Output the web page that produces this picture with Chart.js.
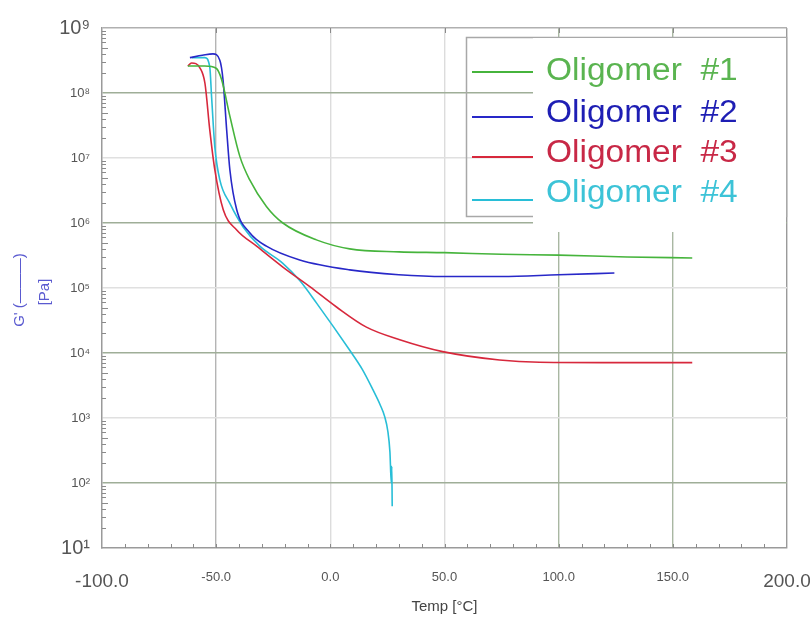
<!DOCTYPE html>
<html>
<head>
<meta charset="utf-8">
<script src="https://cdn.jsdelivr.net/npm/chart.js@4"></script>
<style>
  html, body { margin: 0; padding: 0; background: #fff; }
  #wrap { width: 810px; height: 620px; }
</style>
</head>
<body>
<div id="wrap"><canvas id="chart" width="810" height="620"></canvas></div>
<script>
// storage modulus G' vs temperature

const seriesNames = ['Oligomer  #1', 'Oligomer  #2', 'Oligomer  #3', 'Oligomer  #4'];
const lineColors = ['rgb(70,180,60)', 'rgb(40,40,200)', 'rgb(215,40,60)', 'rgb(40,190,215)'];
const textColors = ['rgb(90,180,80)', 'rgb(30,30,180)', 'rgb(200,40,70)', 'rgb(60,195,215)'];

const temp1 = [-62.4, -55, -50, -47.6, -44, -39.6, -35.3, -28, -20.8, -6.1, 8.5, 30, 50, 75, 100, 130, 158.5];
const gp1 = [2.6e8, 2.6e8, 2.4e8, 1.6e8, 4.4e7, 1.05e7, 4.6e6, 1.8e6, 1.0e6, 5.5e5, 4.0e5, 3.6e5, 3.5e5, 3.3e5, 3.2e5, 3.0e5, 2.9e5];

const temp2 = [-61.5, -56, -51.4, -48.4, -47, -45.4, -44, -41, -35.3, -28, -13.4, 8.5, 30, 50, 75, 100, 124.4];
const gp2 = [3.5e8, 3.8e8, 4.0e8, 3.2e8, 1.6e8, 2.7e7, 6.6e6, 1.6e6, 7.1e5, 4.4e5, 2.7e5, 1.9e5, 1.6e5, 1.5e5, 1.5e5, 1.6e5, 1.7e5];

const temp3 = [-62.4, -60.8, -57, -54.9, -52.8, -50.6, -46.9, -41, -32.3, -20.8, -9, 2.7, 15.8, 30.4, 49.2, 74.1, 91.6, 125, 158.5];
const gp3 = [2.6e8, 2.9e8, 2.4e8, 1.4e8, 2.7e7, 6.6e6, 1.6e6, 7.8e5, 4.4e5, 2.1e5, 1.05e5, 5.1e4, 2.5e4, 1.6e4, 1.05e4, 7.8e3, 7.2e3, 7.1e3, 7.1e3];

const temp4 = [-60.6, -55, -52.8, -52, -50.6, -48.4, -44, -38.2, -30.9, -20.8, -13.4, -6.1, 8.5, 14, 18.7, 21.8, 23.8, 25.2, 26.1, 26.7, 26.9, 27.1];
const gp4 = [3.5e8, 3.5e8, 2.5e8, 8.7e7, 1.5e7, 4.6e6, 2.0e6, 8.7e5, 4.4e5, 2.4e5, 1.3e5, 5.9e4, 1.1e4, 5.6e3, 2.7e3, 1.6e3, 1.05e3, 620, 300, 100, 180, 44];

const temps = [temp1, temp2, temp3, temp4];
const moduli = [gp1, gp2, gp3, gp4];

const xTicks = [-100, -50, 0, 50, 100, 150, 200];
const yTicks = [1e1, 1e2, 1e3, 1e4, 1e5, 1e6, 1e7, 1e8, 1e9];
const supers = ['⁰', '¹', '²', '³', '⁴', '⁵', '⁶', '⁷', '⁸', '⁹'];

const datasets = seriesNames.map((name, i) => ({
  label: name,
  data: temps[i].map((t, j) => ({ x: t, y: moduli[i][j] })),
  borderColor: lineColors[i],
  borderWidth: 1.6,
  pointRadius: 0,
  cubicInterpolationMode: 'monotone',
  fill: false
}));

function xGridColor(v) {
  if (v === -50) return '#b4b4b4';
  if (v === 0 || v === 50) return '#dcdcdc';
  if (v === 100 || v === 150) return '#a9b7a2';
  if (v === 200) return '#9a9a9a';
  return 'rgba(0,0,0,0)';
}

function yGridColor(v) {
  const e = Math.round(Math.log10(v));
  if (e === 1) return 'rgba(0,0,0,0)';
  if (e === 9) return '#b0b0b0';
  return e % 2 === 0 ? '#9fae98' : '#e0e0e0';
}

// minor ticks, legend and y title
const decor = {
  id: 'decor',
  afterDatasetsDraw(chart) {
    const { ctx, chartArea: a, scales } = chart;
    const xs = scales.x, ys = scales.y;
    ctx.save();
    ctx.strokeStyle = '#8a8a8a';
    ctx.lineWidth = 1;
    ctx.beginPath();
    for (let e = 1; e < 9; e++) {
      for (let m = 2; m <= 9; m++) {
        const py = Math.round(ys.getPixelForValue(m * Math.pow(10, e))) + 0.5;
        const len = m === 5 ? 6 : 4;
        ctx.moveTo(a.left, py);
        ctx.lineTo(a.left + len, py);
      }
    }
    for (let t = -90; t < 200; t += 10) {
      const px = Math.round(xs.getPixelForValue(t)) + 0.5;
      ctx.moveTo(px, a.bottom);
      ctx.lineTo(px, a.bottom - 4);
      if (t % 50 === 0) {
        ctx.moveTo(px, a.top);
        ctx.lineTo(px, a.top + 5);
      }
    }
    ctx.stroke();

    // legend
    ctx.strokeStyle = '#a8a8a8';
    ctx.lineWidth = 1.5;
    ctx.strokeRect(466.5, 37.5, 320, 179);
    ctx.fillStyle = '#fff';
    ctx.fillRect(533, 38, 253, 194);
    const lineY = [72, 117, 157, 200];
    const baseY = [80, 122, 162, 202];
    ctx.font = '31px "Liberation Sans", Arial, sans-serif';
    ctx.textBaseline = 'alphabetic';
    for (let i = 0; i < 4; i++) {
      ctx.strokeStyle = lineColors[i];
      ctx.lineWidth = 1.8;
      ctx.beginPath();
      ctx.moveTo(472, lineY[i]);
      ctx.lineTo(533, lineY[i]);
      ctx.stroke();
      ctx.fillStyle = textColors[i];
      ctx.save();
      ctx.translate(546, baseY[i]);
      ctx.scale(1.08, 1);
      ctx.fillText(seriesNames[i], 0, 0);
      ctx.restore();
    }

    // y axis title
    ctx.fillStyle = '#5a5ad0';
    ctx.font = '15px "Liberation Sans", Arial, sans-serif';
    ctx.textAlign = 'center';
    ctx.textBaseline = 'middle';
    ctx.save();
    ctx.translate(20, 290);
    ctx.rotate(-Math.PI / 2);
    ctx.fillText("G' (———)", 0, 0);
    ctx.restore();
    ctx.save();
    ctx.translate(45, 292);
    ctx.rotate(-Math.PI / 2);
    ctx.fillText('[Pa]', 0, 0);
    ctx.restore();
    ctx.restore();
  }
};

new Chart(document.getElementById('chart').getContext('2d'), {
  type: 'line',
  data: { datasets: datasets },
  plugins: [decor],
  options: {
    responsive: false,
    animation: false,
    layout: { padding: { left: 0, right: 23, top: 28, bottom: 0 } },
    plugins: { legend: { display: false }, tooltip: { enabled: false } },
    scales: {
      x: {
        type: 'linear',
        min: -100,
        max: 200,
        afterBuildTicks: s => { s.ticks = xTicks.map(v => ({ value: v })); },
        afterFit: s => { s.height = 72; s.paddingLeft = 0; s.paddingRight = 0; },
        ticks: {
          padding: 22,
          maxRotation: 0,
          color: '#555',
          callback: v => Number(v).toFixed(1),
          font: c => ({
            family: '"Liberation Sans", Arial, sans-serif',
            size: (c.tick && (c.tick.value === -100 || c.tick.value === 200)) ? 19 : 13
          })
        },
        grid: {
          drawTicks: false,
          lineWidth: 1.4,
          color: c => xGridColor(c.tick ? c.tick.value : 0)
        },
        border: { display: true, color: '#9a9a9a', width: 1.5 },
        title: {
          display: true,
          text: 'Temp [°C]',
          color: '#444',
          font: { family: '"Liberation Sans", Arial, sans-serif', size: 15 },
          padding: { top: 4, bottom: 4 }
        }
      },
      y: {
        type: 'logarithmic',
        min: 1e1,
        max: 1e9,
        afterBuildTicks: s => { s.ticks = yTicks.map(v => ({ value: v })); },
        afterFit: s => { s.width = 102; s.paddingTop = 0; s.paddingBottom = 0; },
        ticks: {
          padding: 12,
          color: '#555',
          callback: v => '10' + supers[Math.round(Math.log10(v))],
          font: c => ({
            family: '"Liberation Sans", Arial, sans-serif',
            size: (c.tick && (c.tick.value === 1e9 || c.tick.value === 1e1)) ? 20 : 13
          })
        },
        grid: {
          drawTicks: false,
          lineWidth: 1.4,
          color: c => yGridColor(c.tick ? c.tick.value : 10)
        },
        border: { display: true, color: '#9a9a9a', width: 1.5 }
      }
    }
  }
});
</script>
</body>
</html>
